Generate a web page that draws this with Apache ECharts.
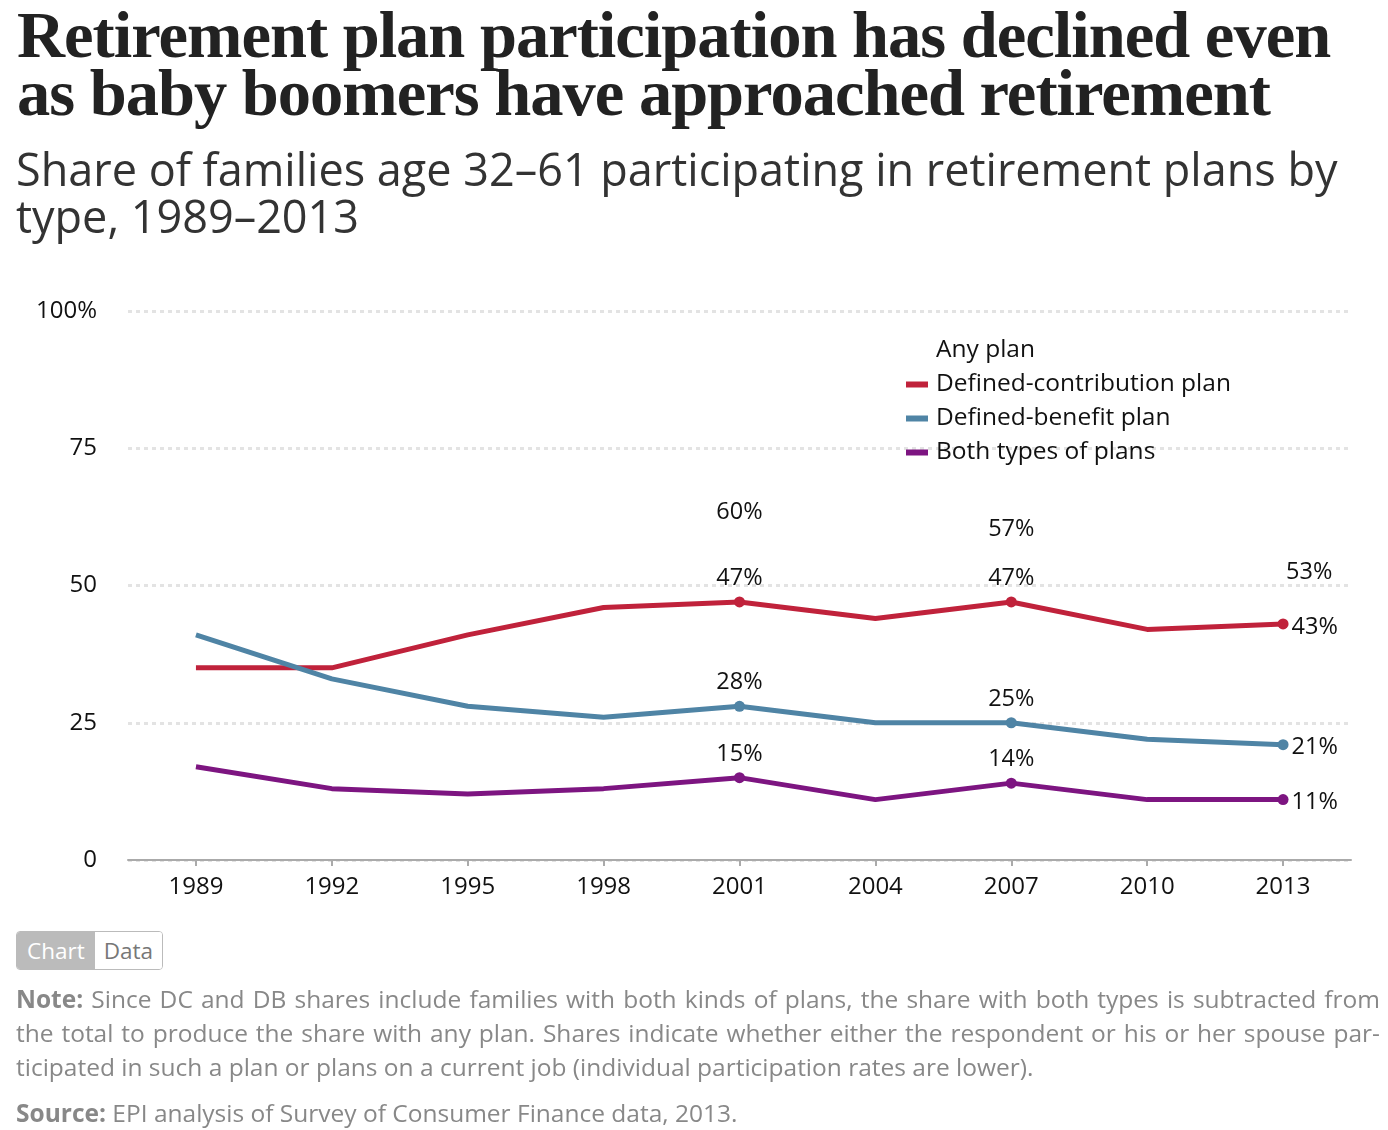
<!DOCTYPE html>
<html>
<head>
<meta charset="utf-8">
<script src="https://cdn.jsdelivr.net/npm/echarts@6/dist/echarts.min.js"></script>
<style>
  html,body{margin:0;padding:0;background:#fff;}
  body{width:1388px;height:1130px;position:relative;overflow:hidden;font-family:"Open Sans",Lato,sans-serif;}
  #chart{position:absolute;left:0;top:0;width:1388px;height:1130px;}
  .title{position:absolute;left:17px;top:6px;font-family:"Liberation Serif","DejaVu Serif",serif;font-weight:bold;font-size:66.5px;line-height:58px;color:#222;letter-spacing:-1px;white-space:nowrap;}
  .subtitle{position:absolute;left:16px;top:145px;font-size:45px;line-height:47px;color:#333;white-space:nowrap;}
  .toggle{position:absolute;left:16px;top:931px;height:37px;border:1px solid #bbb;border-radius:4px;overflow:hidden;display:flex;font-size:22.5px;line-height:37px;}
  .toggle .on{background:#bbb;color:#fff;padding:0 10px;}
  .toggle .off{background:#fff;color:#777;padding:0 9px;}
  .note{position:absolute;left:16px;top:982px;width:1364px;font-size:24.5px;line-height:34px;color:#888;}
  .note .j{text-align:justify;text-align-last:justify;white-space:nowrap;}
  .note b{color:#888;font-weight:bold;}
  .source{position:absolute;left:16px;top:1096px;font-size:24.5px;line-height:34px;color:#888;}
</style>
</head>
<body>
<div id="chart"></div>
<div class="title">Retirement plan participation has declined even<br>as baby boomers have approached retirement</div>
<div class="subtitle">Share of families age 32–61 participating in retirement plans by<br>type, 1989–2013</div>
<div class="toggle"><span class="on">Chart</span><span class="off">Data</span></div>
<div class="note">
  <div class="j"><b>Note:</b> Since DC and DB shares include families with both kinds of plans, the share with both types is subtracted from</div>
  <div class="j">the total to produce the share with any plan. Shares indicate whether either the respondent or his or her spouse par-</div>
  <div>ticipated in such a plan or plans on a current job (individual participation rates are lower).</div>
</div>
<div class="source"><b>Source:</b> EPI analysis of Survey of Consumer Finance data, 2013.</div>
<script>
var years = ['1989','1992','1995','1998','2001','2004','2007','2010','2013'];
var anyPlan = [null, null, null, null, 60, null, 57, null, 53];
var definedContribution = [35, 35, 41, 46, 47, 44, 47, 42, 43];
var definedBenefit = [41, 33, 28, 26, 28, 25, 25, 22, 21];
var bothTypes = [17, 13, 12, 13, 15, 11, 14, 11, 11];
var yTicks = [0, 25, 50, 75, 100];
var labeledIdx = [4, 6, 8];

var FONT = '"Open Sans", Lato, sans-serif';
var chart = echarts.init(document.getElementById('chart'), null, {renderer:'canvas'});

function buildData(arr, showDots){
  return arr.map(function(v, i){
    var labeled = labeledIdx.indexOf(i) >= 0;
    var item = {value: v};
    if (labeled) {
      var last = i === years.length - 1;
      item.label = {
        show: true,
        position: last ? 'right' : 'top',
        distance: last ? 3 : 6,
        offset: last ? [0, 3] : [0, 0]
      };
      item.symbolSize = showDots ? 11 : 0;
    } else {
      item.symbolSize = 0;
    }
    return item;
  });
}

var labelBase = {
  show: false,
  formatter: '{c}%',
  color: '#111',
  fontSize: 23.5,
  fontFamily: FONT
};

function lineSeries(name, arr, color, visible){
  return {
    name: name,
    type: 'line',
    data: buildData(arr, visible),
    symbol: 'circle',
    showSymbol: true,
    showAllSymbol: true,
    color: color,
    itemStyle: {color: color},
    lineStyle: {width: 5, color: color, opacity: visible ? 1 : 0},
    label: labelBase,
    emphasis: {disabled: true},
    silent: true,
    z: visible ? 3 : 2
  };
}

var option = {
  animation: false,
  backgroundColor: 'transparent',
  textStyle: {fontFamily: FONT},
  grid: {left: 128, right: 37, top: 311, bottom: 270, containLabel: false},
  legend: {
    orient: 'vertical',
    left: 901,
    top: 333,
    icon: 'rect',
    itemWidth: 22,
    itemHeight: 6,
    itemGap: 9,
    selectedMode: false,
    textStyle: {fontSize: 24.5, color: '#111', lineHeight: 22, padding: [0, 0, 0, 3], fontFamily: FONT},
    data: [
      {name: 'Any plan', itemStyle: {color: 'rgba(0,0,0,0)'}},
      {name: 'Defined-contribution plan'},
      {name: 'Defined-benefit plan'},
      {name: 'Both types of plans'}
    ]
  },
  xAxis: {
    type: 'category',
    data: years,
    boundaryGap: true,
    axisLine: {show: true, lineStyle: {color: '#aaa', width: 2}},
    axisTick: {show: true, alignWithLabel: true, length: 6, lineStyle: {color: '#aaa', width: 2}},
    axisLabel: {color: '#111', fontSize: 24, margin: 15, fontFamily: FONT},
    splitLine: {show: false}
  },
  yAxis: {
    type: 'value',
    min: 0,
    max: 100,
    interval: 25,
    axisLine: {show: false},
    axisTick: {show: false},
    axisLabel: {
      color: '#111',
      fontSize: 24,
      margin: 31,
      padding: [8, 0, 0, 0],
      fontFamily: FONT,
      formatter: function(v){ return v === yTicks[yTicks.length-1] ? v + '%' : String(v); }
    },
    splitLine: {show: true, lineStyle: {color: '#e3e3e3', width: 3, type: [4, 4]}}
  },
  series: [
    lineSeries('Any plan', anyPlan, 'rgba(0,0,0,0)', false),
    lineSeries('Defined-contribution plan', definedContribution, '#c0223b', true),
    lineSeries('Defined-benefit plan', definedBenefit, '#4f84a5', true),
    lineSeries('Both types of plans', bothTypes, '#7d1581', true)
  ]
};
chart.setOption(option);
</script>
</body>
</html>
